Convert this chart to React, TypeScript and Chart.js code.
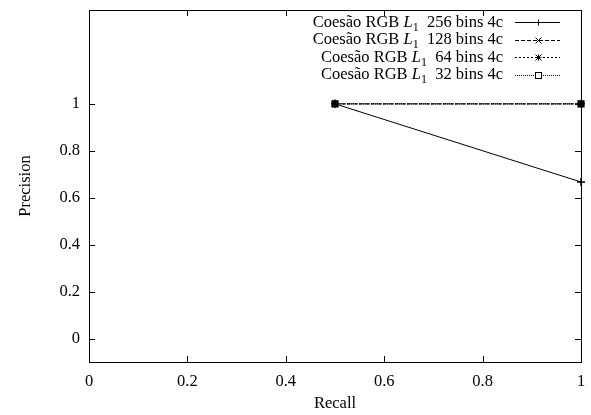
import React, { useEffect, useRef } from "react";
import { Chart, registerables } from "chart.js";

Chart.register(...registerables);

const seriesNames = ["256 bins 4c", "128 bins 4c", "64 bins 4c", "32 bins 4c"];
const recall256 = [0.5, 1.0];
const precision256 = [1.0, 0.667];
const recall128 = [0.5, 1.0];
const precision128 = [1.0, 1.0];
const recall64 = [0.5, 1.0];
const precision64 = [1.0, 1.0];
const recall32 = [0.5, 1.0];
const precision32 = [1.0, 1.0];
const xTicks = [0, 0.2, 0.4, 0.6, 0.8, 1];
const yTicks = [0, 0.2, 0.4, 0.6, 0.8, 1];
const xTitle = "Recall";
const yTitle = "Precision";

const pointStyles = ["cross", "crossRot", "star", "rect"];
const dashes = [[], [4, 2], [2, 2], [1, 1]];

const FONT = "'Liberation Serif', 'DejaVu Serif', serif";
const FS = 16.5;

const toPts = (xs: number[], ys: number[]) => xs.map((x, i) => ({ x, y: ys[i] }));

const framePlugin = {
  id: "frameTicks",
  afterDraw(chart: any) {
    const { ctx, chartArea: a, scales } = chart;
    const xs = scales.x;
    const ys = scales.y;
    ctx.save();
    ctx.strokeStyle = "#000";
    ctx.lineWidth = 1;
    ctx.setLineDash([]);
    ctx.strokeRect(Math.round(a.left) + 0.5, Math.round(a.top) + 0.5, Math.round(a.right - a.left), Math.round(a.bottom - a.top));
    const L = 6;
    ctx.beginPath();
    xTicks.forEach((v) => {
      const px = Math.round(xs.getPixelForValue(v)) + 0.5;
      ctx.moveTo(px, a.bottom);
      ctx.lineTo(px, a.bottom - L);
      ctx.moveTo(px, a.top);
      ctx.lineTo(px, a.top + L);
    });
    yTicks.forEach((v) => {
      const py = Math.round(ys.getPixelForValue(v)) + 0.5;
      ctx.moveTo(a.left, py);
      ctx.lineTo(a.left + L, py);
      ctx.moveTo(a.right, py);
      ctx.lineTo(a.right - L, py);
    });
    ctx.stroke();

    // axis titles
    ctx.fillStyle = "#000";
    ctx.font = `${FS}px ${FONT}`;
    ctx.textAlign = "center";
    ctx.textBaseline = "middle";
    ctx.fillText(xTitle, (a.left + a.right) / 2, 404);
    ctx.save();
    ctx.translate(26, (a.top + a.bottom) / 2);
    ctx.rotate(-Math.PI / 2);
    ctx.fillText(yTitle, 0, 0);
    ctx.restore();

    // legend
    const rightText = 503;
    const lineX0 = 515;
    const lineX1 = 560;
    const rowY0 = 22;
    const rowH = 17.5;
    ctx.textBaseline = "alphabetic";
    ctx.textAlign = "left";
    chart.data.datasets.forEach((ds: any, i: number) => {
      const y = rowY0 + i * rowH;
      const base = y + 4.5;
      const part1 = "Coesão RGB ";
      const partL = "L";
      const partSub = "1";
      const part2 = "  " + seriesNames[i];
      const f = `${FS}px ${FONT}`;
      const fi = `italic ${FS}px ${FONT}`;
      const fs = `12px ${FONT}`;
      ctx.font = f;
      const w2 = ctx.measureText(part2).width;
      const w1 = ctx.measureText(part1).width;
      ctx.font = fi;
      const wL = ctx.measureText(partL).width;
      ctx.font = fs;
      const wS = ctx.measureText(partSub).width;
      let x = rightText - (w1 + wL + wS + w2);
      ctx.font = f;
      ctx.fillText(part1, x, base);
      x += w1;
      ctx.font = fi;
      ctx.fillText(partL, x, base);
      x += wL;
      ctx.font = fs;
      ctx.fillText(partSub, x, base + 4);
      x += wS;
      ctx.font = f;
      ctx.fillText(part2, x, base);

      ctx.beginPath();
      ctx.setLineDash(dashes[i]);
      ctx.lineWidth = 1;
      ctx.moveTo(lineX0, Math.round(y) + 0.5);
      ctx.lineTo(lineX1, Math.round(y) + 0.5);
      ctx.stroke();
      ctx.setLineDash([]);
      const style = pointStyles[i];
      const r = 3;
      const cx = Math.round((lineX0 + lineX1) / 2) + 0.5;
      const cy = Math.round(y) + 0.5;
      ctx.beginPath();
      if (style === "cross") {
        ctx.moveTo(cx - r, cy); ctx.lineTo(cx + r, cy);
        ctx.moveTo(cx, cy - r); ctx.lineTo(cx, cy + r);
        ctx.stroke();
      } else if (style === "crossRot") {
        ctx.moveTo(cx - r, cy - r); ctx.lineTo(cx + r, cy + r);
        ctx.moveTo(cx - r, cy + r); ctx.lineTo(cx + r, cy - r);
        ctx.stroke();
      } else if (style === "star") {
        ctx.moveTo(cx - r, cy); ctx.lineTo(cx + r, cy);
        ctx.moveTo(cx, cy - r); ctx.lineTo(cx, cy + r);
        ctx.moveTo(cx - r, cy - r); ctx.lineTo(cx + r, cy + r);
        ctx.moveTo(cx - r, cy + r); ctx.lineTo(cx + r, cy - r);
        ctx.stroke();
      } else {
        ctx.fillStyle = "#fff";
        ctx.fillRect(cx - r, cy - r, 2 * r, 2 * r);
        ctx.strokeRect(cx - r, cy - r, 2 * r, 2 * r);
        ctx.fillStyle = "#000";
      }
    });
    ctx.restore();
  },
};

export default function App() {
  const ref = useRef<HTMLCanvasElement | null>(null);
  useEffect(() => {
    document.body.style.margin = "0";
    const canvas = ref.current!;
    const mk = (label: string, xs: number[], ys: number[], i: number) => ({
      label,
      data: toPts(xs, ys),
      borderColor: "#000",
      backgroundColor: "#000",
      borderWidth: 1,
      borderDash: dashes[i],
      pointStyle: pointStyles[i],
      pointRadius: 4,
      pointBorderColor: "#000",
      pointBackgroundColor: "#000",
      pointBorderWidth: 1.5,
      showLine: true,
      fill: false,
      tension: 0,
      clip: false,
    });
    const chart = new Chart(canvas, {
      type: "scatter",
      data: {
        datasets: [
          mk("Coesão RGB L1 " + seriesNames[0], recall256, precision256, 0),
          mk("Coesão RGB L1 " + seriesNames[1], recall128, precision128, 1),
          mk("Coesão RGB L1 " + seriesNames[2], recall64, precision64, 2),
          mk("Coesão RGB L1 " + seriesNames[3], recall32, precision32, 3),
        ],
      },
      options: {
        animation: false,
        responsive: false,
        maintainAspectRatio: false,
        layout: { padding: { top: 10, right: 10, left: 0, bottom: 0 } },
        plugins: { legend: { display: false }, tooltip: { enabled: false } },
        scales: {
          x: {
            type: "linear",
            min: 0,
            max: 1,
            afterBuildTicks: (s: any) => { s.ticks = xTicks.map((v) => ({ value: v })); },
            afterFit: (s: any) => { s.height = 53; s.paddingLeft = 0; s.paddingRight = 0; },
            grid: { display: false, drawTicks: false },
            border: { display: false },
            ticks: {
              color: "#000",
              font: { family: FONT, size: FS },
              padding: 10,
              maxRotation: 0,
              callback: (v: any) => String(Math.round(Number(v) * 10) / 10),
            },
          },
          y: {
            type: "linear",
            min: -0.1,
            max: 1.4,
            afterBuildTicks: (s: any) => { s.ticks = yTicks.map((v) => ({ value: v })); },
            afterFit: (s: any) => { s.width = 89; s.paddingTop = 0; s.paddingBottom = 0; },
            grid: { display: false, drawTicks: false },
            border: { display: false },
            ticks: {
              color: "#000",
              font: { family: FONT, size: FS },
              padding: 9,
              callback: (v: any) => String(Math.round(Number(v) * 10) / 10),
            },
          },
        },
      },
      plugins: [framePlugin],
    });
    return () => chart.destroy();
  }, []);
  return (
    <div style={{ width: 591, height: 415, background: "#fff" }}>
      <canvas ref={ref} width={591} height={415} style={{ display: "block", width: 591, height: 415 }} />
    </div>
  );
}
